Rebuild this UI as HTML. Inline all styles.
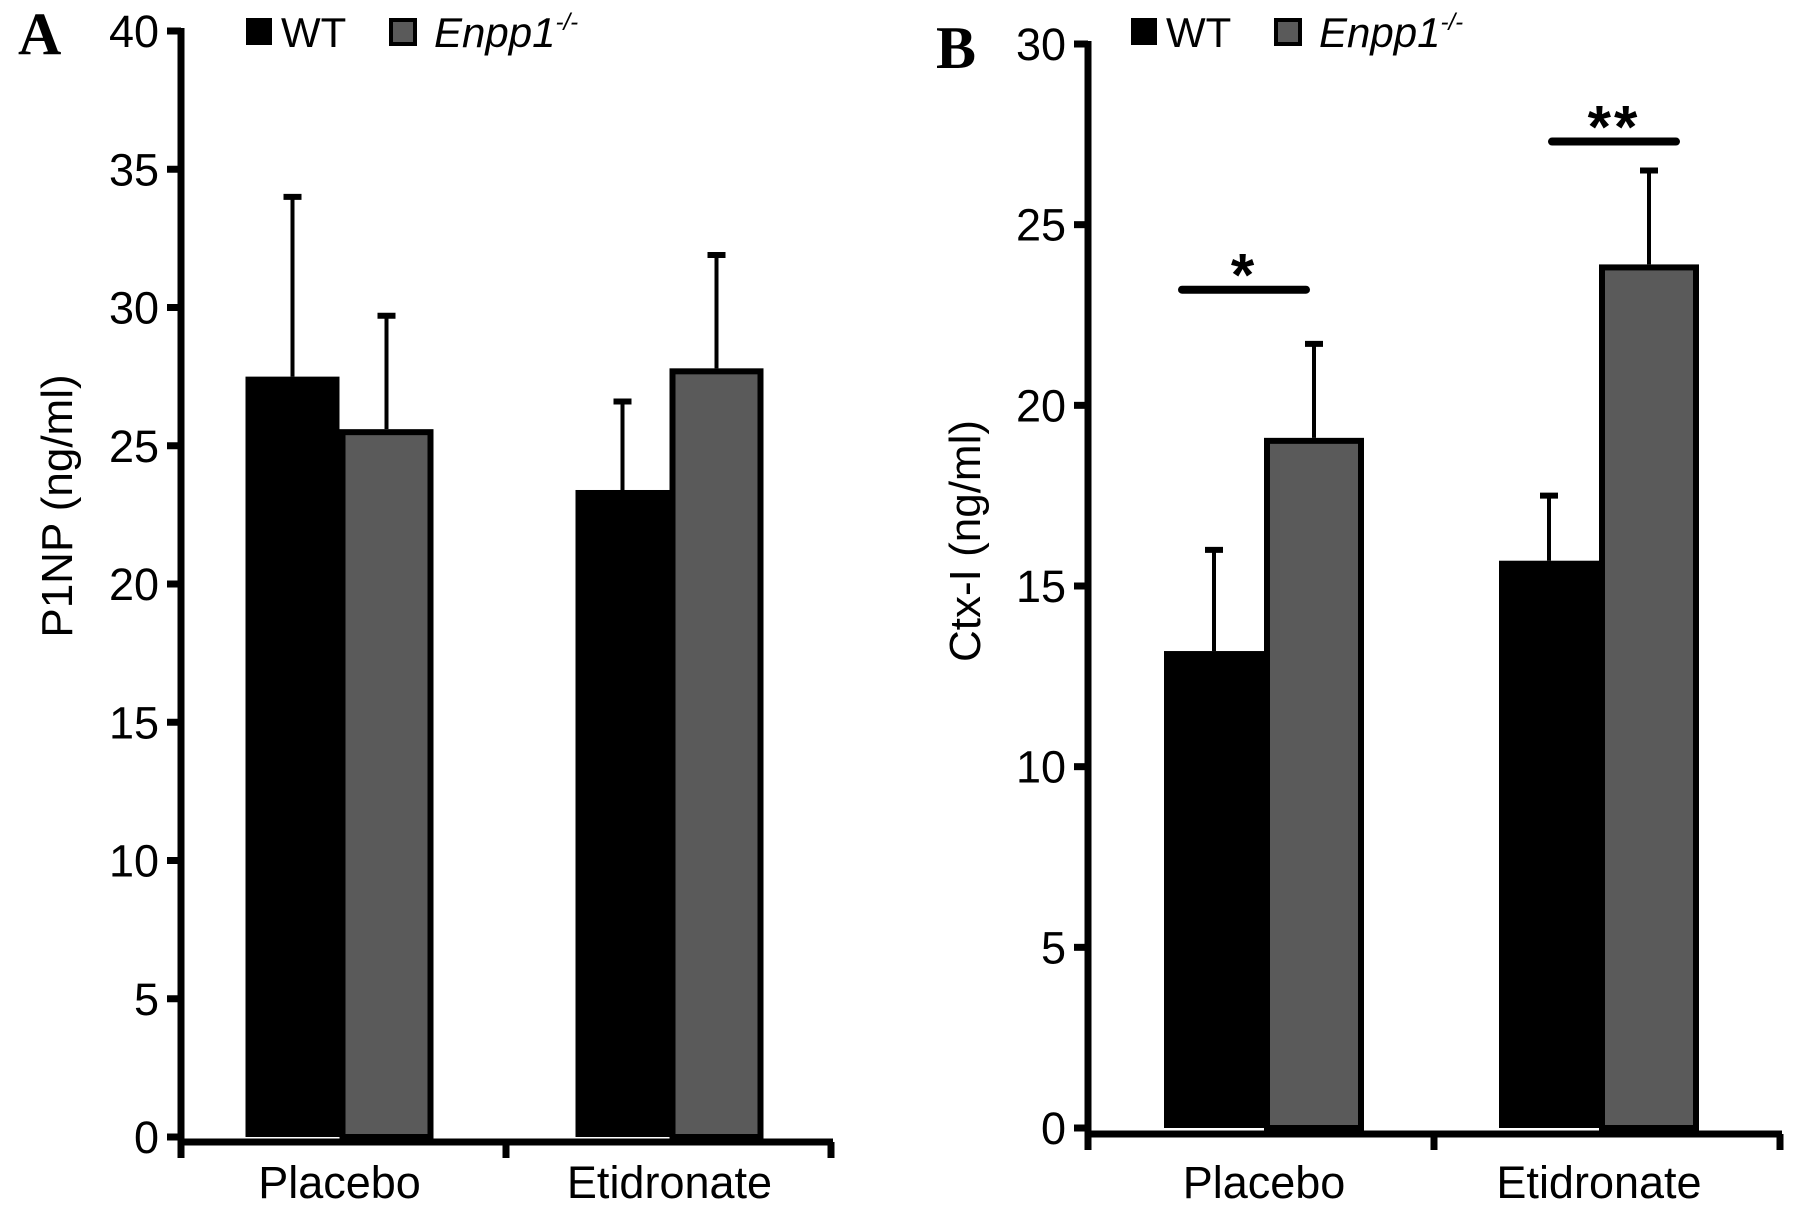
<!DOCTYPE html>
<html><head><meta charset="utf-8"><style>
html,body{margin:0;padding:0;background:#fff;}
svg{display:block;}
</style></head><body>
<svg id="chart" width="1795" height="1205" viewBox="0 0 1795 1205" xmlns="http://www.w3.org/2000/svg" font-family="Liberation Sans, sans-serif"></svg>
<script>
const categories = ["Placebo", "Etidronate"];
const seriesNames = ["WT", "Enpp1"];
const aWT = [27.5, 23.4];
const aWTerr = [34.0, 26.6];
const aKO = [25.6, 27.8];
const aKOerr = [29.7, 31.9];
const aTicks = [0, 5, 10, 15, 20, 25, 30, 35, 40];
const bWT = [13.2, 15.7];
const bWTerr = [16.0, 17.5];
const bKO = [19.1, 23.9];
const bKOerr = [21.7, 26.5];
const bTicks = [0, 5, 10, 15, 20, 25, 30];
const bSigLevels = [23.2, 27.3];
const bSigLabels = ["*", "**"];

const NS = "http://www.w3.org/2000/svg";
const svg = document.getElementById("chart");
function mk(tag, attrs, parent, txt) {
  const e = document.createElementNS(NS, tag);
  for (const k in attrs) e.setAttribute(k, attrs[k]);
  if (txt !== undefined) e.textContent = txt;
  (parent || svg).appendChild(e);
  return e;
}

function panel(cfg) {
  const g = mk("g", {});
  
  
  const yScale = v => cfg.y0 + (cfg.yTop - cfg.y0) * v / cfg.max;
  const L = mk("text", {x: cfg.letterX, y: cfg.letterY, "font-size": 60, "font-weight": "bold", "font-family": "Liberation Serif, serif"}, g, cfg.letter);
  
  
  const ya = mk("line", {x1: cfg.ax, x2: cfg.ax, y1: yScale(cfg.max) - 3, y2: cfg.xAxisY + 3, stroke: "#000", "stroke-width": 7}, g);
  
  
  cfg.ticks.forEach(t => {
    const y = yScale(t);
    const tl = mk("line", {x1: cfg.ax - 14, x2: cfg.ax, y1: y, y2: y, stroke: "#000", "stroke-width": 7}, g);
    
    
    const tx = mk("text", {x: cfg.ax - 22, y: y + 16, "text-anchor": "end", "font-size": 45}, g, String(t));
    
    
  });
  const yt = mk("text", {x: 0, y: 0, "font-size": 44, "text-anchor": "middle", transform: `translate(${cfg.titleX},${cfg.titleY}) rotate(-90)`}, g, cfg.title);
  
  
  const groupW = (cfg.axEnd - cfg.ax) / categories.length;
  categories.forEach((c, i) => {
    const cx = cfg.ax + groupW * (i + 0.5) + cfg.shift[i];
    const w = cfg.barW;
    const yw = yScale(cfg.wt[i]);
    const ew = mk("line", {x1: cx - w / 2, x2: cx - w / 2, y1: yScale(cfg.wtErr[i]), y2: yw, stroke: "#000", "stroke-width": 4}, g);
    
    
    const cw = mk("line", {x1: cx - w / 2 - 9, x2: cx - w / 2 + 9, y1: yScale(cfg.wtErr[i]), y2: yScale(cfg.wtErr[i]), stroke: "#000", "stroke-width": 6}, g);
    
    
    const bw = mk("rect", {x: cx - w, y: yw, width: w, height: cfg.y0 - yw, fill: "#000"}, g);
    
    
    const yk = yScale(cfg.ko[i]);
    const ek = mk("line", {x1: cx + w / 2, x2: cx + w / 2, y1: yScale(cfg.koErr[i]), y2: yk, stroke: "#000", "stroke-width": 4}, g);
    
    
    const ck = mk("line", {x1: cx + w / 2 - 9, x2: cx + w / 2 + 9, y1: yScale(cfg.koErr[i]), y2: yScale(cfg.koErr[i]), stroke: "#000", "stroke-width": 6}, g);
    
    
    const bk = mk("rect", {x: cx + 3, y: yk + 3, width: w - 6, height: cfg.y0 - yk - 3, fill: "#5a5a5a", stroke: "#000", "stroke-width": 6}, g);
    
    
    const cl = mk("text", {x: cx, y: cfg.labelY, "text-anchor": "middle", "font-size": 45}, g, c);
    
    
    if (cfg.sig) {
      const sy = yScale(cfg.sig[i]);
      const sc = cx + cfg.sigShift[i];
      const sl = mk("line", {x1: sc - 62, x2: sc + 62, y1: sy, y2: sy, stroke: "#000", "stroke-width": 8, "stroke-linecap": "round"}, g);
      
      
      const st = mk("text", {x: sc, y: sy + 6, "text-anchor": "middle", "font-size": 60, "font-weight": "bold", "letter-spacing": "3"}, g, cfg.sigLabels[i]);
      
      
    }
  });
  const xa = mk("line", {x1: cfg.ax - 3, x2: cfg.axEnd + 2, y1: cfg.xAxisY, y2: cfg.xAxisY, stroke: "#000", "stroke-width": 7}, g);
  
  
  for (let k = 0; k <= categories.length; k++) {
    const x = cfg.ax + groupW * k;
    const xt = mk("line", {x1: x, x2: x, y1: cfg.xAxisY, y2: cfg.xAxisY + 16, stroke: "#000", "stroke-width": 7}, g);
    
    
  }
  const lg = mk("g", {}, g);
  
  
  const s1 = mk("rect", {x: cfg.legX, y: 18, width: 26, height: 27, fill: "#000"}, lg);
  
  
  const t1 = mk("text", {x: cfg.legX + 35, y: 47, "font-size": 42}, lg, seriesNames[0]);
  
  
  const s2 = mk("rect", {x: cfg.legX + 145, y: 20, width: 24, height: 24, fill: "#5a5a5a", stroke: "#000", "stroke-width": 4}, lg);
  
  
  const t2 = mk("text", {x: cfg.legX + 188, y: 47, "font-size": 42, "font-style": "italic"}, lg, seriesNames[1]);
  
  
  mk("tspan", {"font-size": 24, dy: -17}, t2, "-/-");
}

panel({name: "panel-a-p1np", letter: "A", letterX: 18, letterY: 54, ax: 181, axEnd: 831, y0: 1137, yTop: 31, max: 40,
  xAxisY: 1142, ticks: aTicks, wt: aWT, wtErr: aWTerr, ko: aKO, koErr: aKOerr, barW: 94, shift: [-4, 1],
  labelY: 1198, title: "P1NP (ng/ml)", titleX: 72, titleY: 506, legX: 246});
panel({name: "panel-b-ctx", letter: "B", letterX: 936, letterY: 68, ax: 1088, axEnd: 1780, y0: 1128, yTop: 44, max: 30,
  xAxisY: 1134, ticks: bTicks, wt: bWT, wtErr: bWTerr, ko: bKO, koErr: bKOerr, barW: 100, shift: [3, -8],
  labelY: 1198, title: "Ctx-I (ng/ml)", titleX: 980, titleY: 541, legX: 1131,
  sig: bSigLevels, sigLabels: bSigLabels, sigShift: [-20, 15]});
</script>
</body></html>
